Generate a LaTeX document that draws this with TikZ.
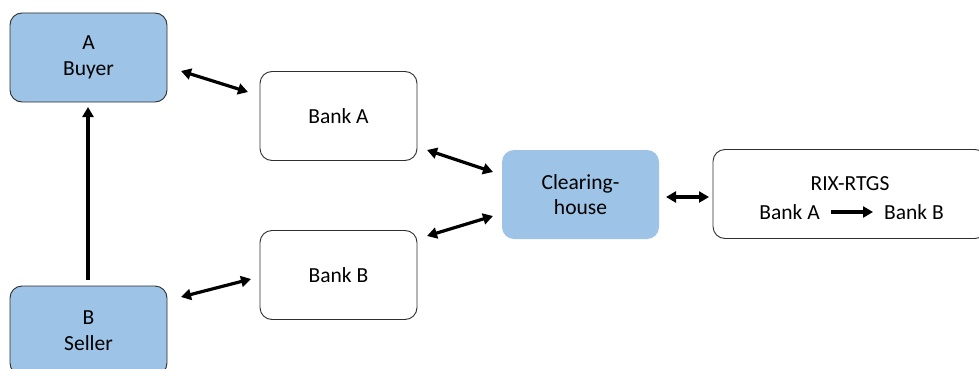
\documentclass[tikz,border=0pt]{standalone}
\usepackage{fontspec}
\setmainfont{Carlito}
\usetikzlibrary{arrows.meta}
\definecolor{partyblue}{HTML}{9DC3E6}
\definecolor{edgegray}{HTML}{2F2F2F}
\tikzset{
  lbl/.style={font=\fontsize{21.5}{25.5}\selectfont},
  box/.style={lbl, rounded corners=12pt, minimum width=157pt, minimum height=89pt,
    align=center, inner sep=0pt},
  party/.style={box, fill=partyblue, draw=edgegray, line width=0.9pt},
  bank/.style={box, fill=white, draw=edgegray, line width=0.9pt},
  hub/.style={box, fill=partyblue, draw=none},
  link/.style={line width=3.2pt, {Triangle[length=10pt,width=11pt]}-{Triangle[length=10pt,width=11pt]}},
  flow/.style={line width=3.2pt, -{Triangle[length=10pt,width=11pt]}}
}
\begin{document}
\begin{tikzpicture}[x=1pt,y=-1pt]
  \clip (0,0) rectangle (979,369);
  \fill[white] (0,0) rectangle (979,369);

  \node[party] (buyer) at (88.5,57.5) {A\\Buyer};
  \node[party] (seller) at (88.5,330.5) {B\\Seller};
  \node[bank] (banka) at (338.5,116) {Bank A};
  \node[bank] (bankb) at (338.5,275) {Bank B};
  \node[hub] (ch) at (580.5,194.5) {Clearing-\\house};
  \node[bank, minimum width=274pt] (rix) at (850,194) {};
  \node[lbl] (rixt) at (850,184) {RIX-RTGS};
  \node[lbl, anchor=east, inner sep=0pt] (ra) at (820,212) {Bank A};
  \node[lbl, anchor=west, inner sep=0pt] (rb) at (884,212) {Bank B};

  % connectors between parties, banks and the clearing house
  \coordinate (b1) at (181,71);  \coordinate (b2) at (248,92);
  \coordinate (a1) at (427,150); \coordinate (a2) at (493,172);
  \coordinate (c1) at (427,236); \coordinate (c2) at (493,216);
  \coordinate (s1) at (181,297); \coordinate (s2) at (251,279);
  \coordinate (h1) at (666,197); \coordinate (h2) at (709,197);
  \draw[link] (b1) -- (b2);
  \draw[link] (a1) -- (a2);
  \draw[link] (c1) -- (c2);
  \draw[link] (s1) -- (s2);
  \draw[link] (h1) -- (h2);
  \coordinate (v1) at (88,280); \coordinate (v2) at (88,107);
  \draw[flow] (v1) -- (v2);
  \draw[flow] ([xshift=11pt]ra.east) -- ([xshift=-11pt]rb.west);
\end{tikzpicture}
\end{document}
